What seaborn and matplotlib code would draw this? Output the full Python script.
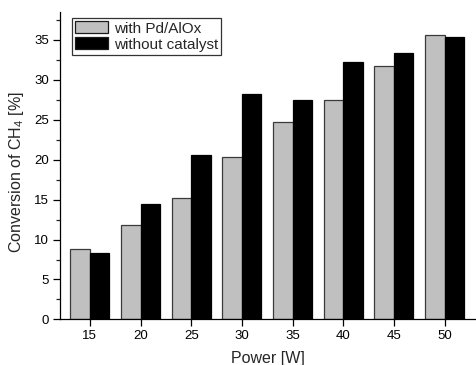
import matplotlib
matplotlib.use("Agg")
import matplotlib.pyplot as plt
import seaborn as sns
import pandas as pd
from matplotlib.ticker import MultipleLocator

power = ["15", "20", "25", "30", "35", "40", "45", "50"]
with_cat = [8.8, 11.8, 15.2, 20.4, 24.7, 27.5, 31.7, 35.6]
without_cat = [8.3, 14.5, 20.6, 28.2, 27.5, 32.2, 33.4, 35.4]
series = ["with Pd/AlOx", "without catalyst"]

df = pd.DataFrame({
    "Power": power * 2,
    "Conversion": with_cat + without_cat,
    "Series": [series[0]] * len(power) + [series[1]] * len(power),
})

sns.set_style("ticks")
plt.rcParams["font.family"] = ["Liberation Sans", "DejaVu Sans"]
plt.rcParams["mathtext.fontset"] = "custom"
plt.rcParams["mathtext.rm"] = "Liberation Sans"

fig = plt.figure(figsize=(4.76, 3.65), dpi=100)
ax = fig.add_axes([0.126, 0.125, 0.874, 0.842])

sns.barplot(data=df, x="Power", y="Conversion", hue="Series", order=power,
            hue_order=series, palette={series[0]: "#c0c0c0", series[1]: "#000000"},
            width=0.77, gap=0, ax=ax, saturation=1, errorbar=None)

for i, cont in enumerate(ax.containers):
    for p in cont:
        p.set_edgecolor("#3a3a3a" if i == 0 else "#000000")
        p.set_linewidth(0.9)

ax.set_xlim(-0.59, 7.62)
ax.set_ylim(0, 38.5)
ax.yaxis.set_major_locator(MultipleLocator(5))
ax.yaxis.set_minor_locator(MultipleLocator(2.5))
ax.tick_params(axis="both", which="major", direction="out", length=5, width=0.9,
               labelsize=9.5, colors="black", pad=3)
ax.tick_params(axis="y", which="minor", direction="out", length=3, width=0.9)
for s in ["top", "right"]:
    ax.spines[s].set_visible(False)
for s in ["left", "bottom"]:
    ax.spines[s].set_linewidth(0.9)
    ax.spines[s].set_color("black")

ax.set_xlabel("Power [W]", fontsize=11.5, labelpad=6)
ax.set_ylabel("Conversion of CH$_\\mathrm{4}$ [%]", fontsize=11.5, labelpad=4)
ax.yaxis.set_label_coords(-0.082, 0.48)

leg = ax.legend(loc="upper left", bbox_to_anchor=(0.029, 0.981), fontsize=11,
                frameon=True, fancybox=False, edgecolor="black",
                handlelength=2.15, handleheight=0.85, handletextpad=0.35,
                borderpad=0.22, labelspacing=0.1, borderaxespad=0)
leg.get_frame().set_linewidth(0.9)
for h in leg.legend_handles:
    h.set_edgecolor("#1a1a1a")
    h.set_linewidth(0.9)

fig.savefig("out.png", dpi=100)
